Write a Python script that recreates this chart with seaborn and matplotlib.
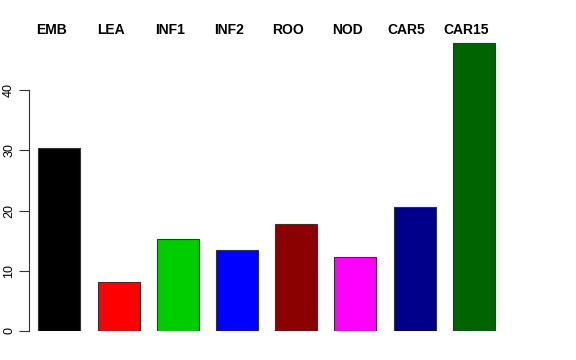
import matplotlib
matplotlib.use("Agg")
import matplotlib.pyplot as plt
import matplotlib.transforms as mtransforms
import seaborn as sns
import pandas as pd

# values
tissues = ["EMB", "LEA", "INF1", "INF2", "ROO", "NOD", "CAR5", "CAR15"]
values = [30.4, 8.1, 15.2, 13.45, 17.8, 12.3, 20.65, 47.8]
colours = ["#000000", "#FF0000", "#00CD00", "#0000FF",
           "#8B0000", "#FF00FF", "#00008B", "#006400"]

df = pd.DataFrame({"tissue": tissues, "value": values})

sns.set_style("white", {"ytick.left": True, "text.color": "black",
                        "ytick.color": "#333333", "axes.edgecolor": "#333333"})
plt.rcParams["font.family"] = ["Liberation Sans", "DejaVu Sans"]

W, H = 576, 360
fig = plt.figure(figsize=(W / 100, H / 100), dpi=100)
# axes placed in pixel terms: left spine at x=29, y=0 at 331 px
left, right, bottom, top = 29, 520, 331, 36
ax = fig.add_axes([left / W, (H - bottom) / H, (right - left) / W, (bottom - top) / H])

sns.barplot(data=df, x="tissue", y="value", hue="tissue", palette=colours,
            saturation=1, width=0.71, edgecolor="#333333", linewidth=0.8,
            legend=False, ax=ax)

ax.set_xlim(-0.512, 7.78)
ax.set_ylim(0, 49)
ax.set_xlabel("")
ax.set_ylabel("")
ax.set_xticks([])
ax.set_yticks([0, 10, 20, 30, 40])
ax.tick_params(axis="y", left=True, length=7, width=0.8, color="#333333",
               labelcolor="black", labelsize=9, pad=3)
for lbl in ax.get_yticklabels():
    lbl.set_rotation(90)
    lbl.set_va("center")

for s in ["top", "right", "bottom"]:
    ax.spines[s].set_visible(False)
ax.spines["left"].set_bounds(0, 40)
ax.spines["left"].set_color("#333333")
ax.spines["left"].set_linewidth(0.8)

# bold tissue names across the top
trans = mtransforms.blended_transform_factory(ax.transData, fig.transFigure)
for i, name in enumerate(tissues):
    ax.text(i - 0.135, 1 - 30 / H, name, transform=trans, ha="center", va="center",
            fontsize=10, fontweight="bold", color="black")

fig.savefig("out.png", dpi=100)
